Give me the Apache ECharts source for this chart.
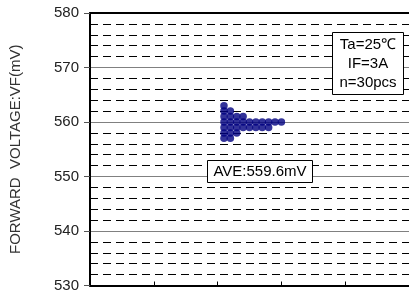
<!DOCTYPE html>
<html>
<head>
<meta charset="utf-8">
<script src="https://cdn.jsdelivr.net/npm/echarts@6/dist/echarts.min.js"></script>
<style>
  html, body { margin: 0; padding: 0; background: #fff; }
  #chart { width: 409px; height: 293px; }
</style>
</head>
<body>
<div id="chart"></div>
<script>
// VF readings (mV) and how many parts landed on each one (n=30)
const vfLevels = [563, 562, 561, 560, 559, 558, 557];
const vfCounts = [1, 2, 4, 10, 8, 3, 2];
const yTicks = [530, 540, 550, 560, 570, 580];
const condLines = ["Ta=25℃", "IF=3A", "n=30pcs"];
const aveLabel = "AVE:559.6mV";

// dot plot: stack each reading sideways starting at x=2.1
const dotStart = 2.1;
const dotStep = 0.1;
const dots = [];
vfLevels.forEach((v, i) => {
  for (let k = 0; k < vfCounts[i]; k++) dots.push([dotStart + k * dotStep, v]);
});

const FONT = "Liberation Sans, Arial, sans-serif";
const chart = echarts.init(document.getElementById("chart"));

chart.setOption({
  animation: false,
  backgroundColor: "#fff",
  grid: { left: 87, right: 0, top: 13, bottom: 4 },
  xAxis: [{
    type: "value",
    min: 0,
    max: 5,
    interval: 1,
    axisLine: { lineStyle: { color: "#000", width: 2 } },
    axisTick: { inside: true, length: 4, lineStyle: { color: "#000" } },
    axisLabel: { show: false },
    splitLine: { show: false }
  }, {
    type: "value",
    position: "top",
    min: 0,
    max: 5,
    axisLine: { show: true, lineStyle: { color: "#000", width: 2 } },
    axisTick: { show: false },
    axisLabel: { show: false },
    splitLine: { show: false }
  }],
  yAxis: {
    type: "value",
    min: yTicks[0],
    max: yTicks[yTicks.length - 1],
    interval: 10,
    name: "FORWARD  VOLTAGE:VF(mV)",
    nameLocation: "middle",
    nameGap: 67,
    nameTextStyle: { color: "#333", fontSize: 15, fontFamily: FONT },
    axisLine: { show: true, lineStyle: { color: "#000", width: 2 } },
    axisTick: { show: true, length: 6, lineStyle: { color: "#555" } },
    axisLabel: { color: "#222", fontSize: 15, fontFamily: FONT, margin: 11 },
    splitLine: { show: true, lineStyle: { color: "#808080", width: 1 } },
    minorTick: { show: false, splitNumber: 5 },
    minorSplitLine: { show: true, lineStyle: { color: "#000", width: 1, type: [8, 5] } }
  },
  series: [{
    type: "scatter",
    data: dots,
    symbol: "circle",
    symbolSize: 7.5,
    itemStyle: { color: "#000080" },
    z: 5
  }],
  graphic: [{
    type: "group",
    left: 332,
    top: 32,
    z: 100,
    children: [{
      type: "rect",
      z: 100,
      shape: { x: 0, y: 0, width: 71, height: 62 },
      style: { fill: "#fff", stroke: "#000", lineWidth: 1 }
    }, {
      type: "text",
      z: 101,
      x: 35.5,
      y: 31,
      style: {
        text: condLines.join("\n"),
        align: "center",
        verticalAlign: "middle",
        lineHeight: 19,
        font: "15px " + FONT,
        fill: "#000"
      }
    }]
  }, {
    type: "group",
    left: 207,
    top: 160,
    z: 100,
    children: [{
      type: "rect",
      z: 100,
      shape: { x: 0, y: 0, width: 105, height: 22 },
      style: { fill: "#fff", stroke: "#000", lineWidth: 1 }
    }, {
      type: "text",
      z: 101,
      x: 52.5,
      y: 11,
      style: {
        text: aveLabel,
        align: "center",
        verticalAlign: "middle",
        font: "15px " + FONT,
        fill: "#000"
      }
    }]
  }]
});
</script>
</body>
</html>
